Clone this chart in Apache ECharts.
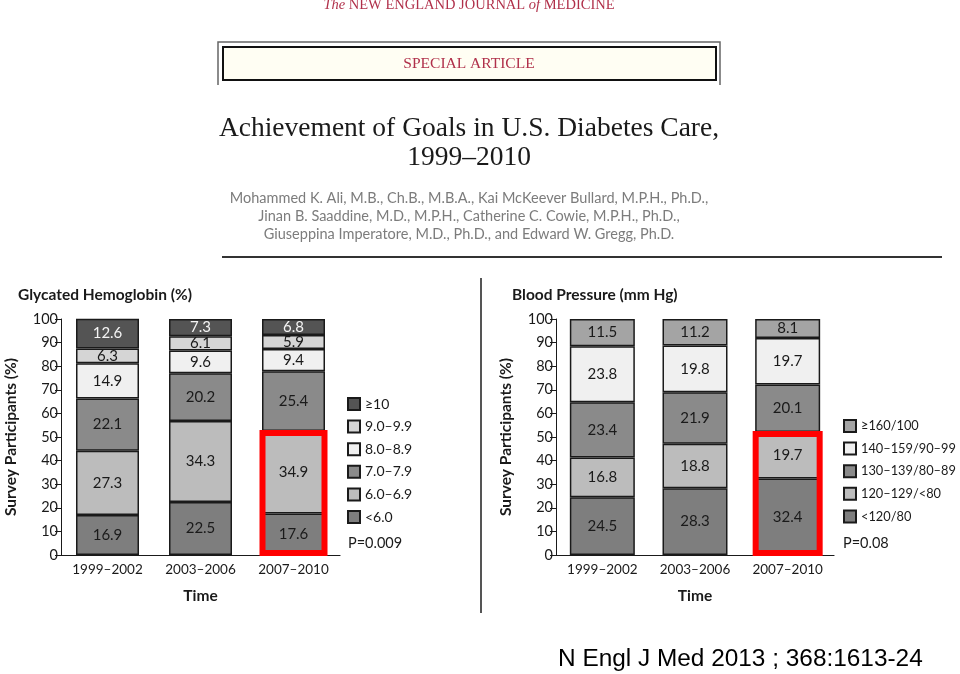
<!DOCTYPE html>
<html><head><meta charset="utf-8">
<script src="https://cdn.jsdelivr.net/npm/echarts@6/dist/echarts.min.js"></script>
<style>html,body{margin:0;padding:0;background:#fff}#c{width:960px;height:674px}</style>
</head><body><div id="c"></div>
<script>
// ---- data ----
const periods = ['1999–2002', '2003–2006', '2007–2010'];
const yTicks = [0, 10, 20, 30, 40, 50, 60, 70, 80, 90, 100];

// Glycated hemoglobin (%), bottom to top
const hbaNames = ['<6.0', '6.0–6.9', '7.0–7.9', '8.0–8.9', '9.0–9.9', '≥10'];
const hbaLt6 = [16.9, 22.5, 17.6];
const hba6to69 = [27.3, 34.3, 34.9];
const hba7to79 = [22.1, 20.2, 25.4];
const hba8to89 = [14.9, 9.6, 9.4];
const hba9to99 = [6.3, 6.1, 5.9];
const hbaGe10 = [12.6, 7.3, 6.8];
const hbaP = 'P=0.009';

// Blood pressure (mm Hg), bottom to top
const bpNames = ['<120/80', '120–129/<80', '130–139/80–89', '140–159/90–99', '≥160/100'];
const bpLt120 = [24.5, 28.3, 32.4];
const bp120 = [16.8, 18.8, 19.7];
const bp130 = [23.4, 21.9, 20.1];
const bp140 = [23.8, 19.8, 19.7];
const bpGe160 = [11.5, 11.2, 8.1];
const bpP = 'P=0.08';

const hbaSeriesData = [hbaLt6, hba6to69, hba7to79, hba8to89, hba9to99, hbaGe10];
const hbaColors = ['#7e7e7e', '#bcbcbc', '#8a8a8a', '#f0f0f0', '#d5d5d5', '#545454'];
const hbaLabelColors = ['#1a1a1a', '#1a1a1a', '#1a1a1a', '#1a1a1a', '#1a1a1a', '#f4f4f4'];
const bpSeriesData = [bpLt120, bp120, bp130, bp140, bpGe160];
const bpColors = ['#7e7e7e', '#bcbcbc', '#8a8a8a', '#f0f0f0', '#a4a4a4'];
const bpLabelColors = ['#1a1a1a', '#1a1a1a', '#1a1a1a', '#1a1a1a', '#1a1a1a'];

const FONT = 'Lato';
const chart = echarts.init(document.getElementById('c'), null, {renderer: 'canvas'});

function mkSeries(names, datas, colors, lcolors, idx, stack, bw) {
  return names.map((n, i) => ({
    name: n, type: 'bar', stack: stack, xAxisIndex: idx, yAxisIndex: idx,
    barWidth: bw, data: datas[i],
    itemStyle: {color: colors[i], borderColor: '#1a1a1a', borderWidth: 1.5},
    label: {show: true, position: 'inside', color: lcolors[i], fontFamily: FONT, fontSize: 15,
            formatter: p => p.value.toFixed(1)},
    emphasis: {disabled: true}
  }));
}

function yAx(idx) {
  return {
    gridIndex: idx, type: 'value', min: 0, max: 100, interval: 10,
    name: 'Survey Participants (%)', nameLocation: 'middle', nameGap: 42,
    nameTextStyle: {fontFamily: FONT, fontSize: 15.5, fontWeight: 'bold', color: '#1a1a1a'},
    axisLine: {show: true, lineStyle: {color: '#1a1a1a', width: 1}},
    axisTick: {show: true, length: 6, lineStyle: {color: '#1a1a1a'}},
    axisLabel: {fontFamily: FONT, fontSize: 14.5, color: '#1a1a1a', margin: 3},
    splitLine: {show: false}
  };
}
function xAx(idx) {
  return {
    gridIndex: idx, type: 'category', data: periods,
    name: 'Time', nameLocation: 'middle', nameGap: 33,
    nameTextStyle: {fontFamily: FONT, fontSize: 15.5, fontWeight: 'bold', color: '#1a1a1a'},
    axisLine: {show: true, lineStyle: {color: '#1a1a1a', width: 1.2}},
    axisTick: {show: false},
    axisLabel: {fontFamily: FONT, fontSize: 13.5, color: '#1a1a1a', margin: 8}
  };
}

const legTxt = {fontFamily: FONT, fontSize: 14, color: '#1a1a1a'};
const legTxtR = {fontFamily: FONT, fontSize: 12.8, color: '#1a1a1a'};

const option = {
  backgroundColor: '#fff',
  animation: false,
  title: [
    {text: 'Glycated Hemoglobin (%)', left: 18, top: 287, padding: 0,
     textStyle: {fontFamily: FONT, fontSize: 15.5, fontWeight: 'bold', color: '#1a1a1a'}},
    {text: 'Blood Pressure (mm Hg)', left: 512, top: 287, padding: 0,
     textStyle: {fontFamily: FONT, fontSize: 15.5, fontWeight: 'bold', color: '#1a1a1a'}}
  ],
  grid: [
    {left: 61, top: 319, width: 279, height: 236},
    {left: 556, top: 319, width: 278, height: 236}
  ],
  xAxis: [xAx(0), xAx(1)],
  yAxis: [yAx(0), yAx(1)],
  legend: [
    {orient: 'vertical', left: 347, top: 397, itemWidth: 12, itemHeight: 12, itemGap: 8.6,
     selectedMode: false, icon: 'rect', textStyle: legTxt, padding: 0,
     data: hbaNames.slice().reverse()},
    {orient: 'vertical', left: 843, top: 419, itemWidth: 12, itemHeight: 12, itemGap: 8.6,
     selectedMode: false, icon: 'rect', textStyle: legTxtR, padding: 0,
     data: bpNames.slice().reverse()}
  ],
  series: [].concat(
    mkSeries(hbaNames, hbaSeriesData, hbaColors, hbaLabelColors, 0, 'hba', 63),
    mkSeries(bpNames, bpSeriesData, bpColors, bpLabelColors, 1, 'bp', 65)
  ),
  graphic: [
    // journal header
    {type: 'text', x: 469, y: 5, style: {text: '{i|The} NEW ENGLAND JOURNAL {i|of} MEDICINE',
      rich: {i: {fontStyle: 'italic', fontFamily: 'Liberation Serif', fontSize: 14.5, fill: '#b0304a'}},
      fontFamily: 'Liberation Serif', fontSize: 14.5, fill: '#b0304a', align: 'center', verticalAlign: 'middle'}},
    {type: 'polyline', shape: {points: [[218, 85], [218, 42], [720, 42], [720, 85]]},
      style: {stroke: '#666', lineWidth: 1.5, fill: null}},
    {type: 'rect', shape: {x: 223, y: 47, width: 493, height: 33},
      style: {fill: '#fffef3', stroke: '#111', lineWidth: 2}},
    {type: 'text', x: 469, y: 64, style: {text: 'SPECIAL ARTICLE', fontFamily: 'Liberation Serif',
      fontSize: 15.5, fill: '#b0304a', align: 'center', verticalAlign: 'middle'}},
    // title
    {type: 'text', x: 469, y: 129, style: {text: 'Achievement of Goals in U.S. Diabetes Care,',
      fontFamily: 'Liberation Serif', fontSize: 27.5, fill: '#1a1a1a', align: 'center', verticalAlign: 'middle'}},
    {type: 'text', x: 469, y: 158, style: {text: '1999–2010',
      fontFamily: 'Liberation Serif', fontSize: 27.5, fill: '#1a1a1a', align: 'center', verticalAlign: 'middle'}},
    // authors
    {type: 'text', x: 469, y: 198, style: {text: 'Mohammed K. Ali, M.B., Ch.B., M.B.A., Kai McKeever Bullard, M.P.H., Ph.D.,',
      fontFamily: FONT, fontSize: 14.5, fill: '#7c7c7c', align: 'center', verticalAlign: 'middle'}},
    {type: 'text', x: 469, y: 216, style: {text: 'Jinan B. Saaddine, M.D., M.P.H., Catherine C. Cowie, M.P.H., Ph.D.,',
      fontFamily: FONT, fontSize: 14.5, fill: '#7c7c7c', align: 'center', verticalAlign: 'middle'}},
    {type: 'text', x: 469, y: 234, style: {text: 'Giuseppina Imperatore, M.D., Ph.D., and Edward W. Gregg, Ph.D.',
      fontFamily: FONT, fontSize: 14.5, fill: '#7c7c7c', align: 'center', verticalAlign: 'middle'}},
    // rules
    {type: 'line', shape: {x1: 222, y1: 257, x2: 942, y2: 257}, style: {stroke: '#333', lineWidth: 2}},
    {type: 'line', shape: {x1: 481, y1: 278, x2: 481, y2: 613}, style: {stroke: '#555', lineWidth: 2}},
    // p-values
    {type: 'text', x: 348, y: 543, style: {text: hbaP, fontFamily: FONT, fontSize: 14.5, fill: '#1a1a1a', verticalAlign: 'middle'}},
    {type: 'text', x: 843, y: 543, style: {text: bpP, fontFamily: FONT, fontSize: 14.5, fill: '#1a1a1a', verticalAlign: 'middle'}},
    // citation
    {type: 'text', x: 558, y: 659, style: {text: 'N Engl J Med 2013 ; 368:1613-24',
      fontFamily: 'Liberation Sans', fontSize: 24.4, fill: '#000', verticalAlign: 'middle'}}
  ]
};
chart.setOption(option);

// red highlight boxes around the two lowest segments of the last period
function redBox(idx, bw, topVal) {
  const cx = chart.convertToPixel({xAxisIndex: idx}, periods[2]);
  const y0 = chart.convertToPixel({yAxisIndex: idx}, 0);
  const yt = chart.convertToPixel({yAxisIndex: idx}, topVal);
  return {type: 'rect', z: 100,
    shape: {x: cx - bw / 2 + 0.5, y: yt + 2, width: bw - 1, height: y0 - yt - 4},
    style: {fill: null, stroke: '#f00', lineWidth: 6}};
}
const g = option.graphic.slice();
g.push(redBox(0, 63, hbaLt6[2] + hba6to69[2]));
g.push(redBox(1, 65, bpLt120[2] + bp120[2]));
chart.setOption({graphic: g}, {replaceMerge: ['graphic']});
</script></body></html>
